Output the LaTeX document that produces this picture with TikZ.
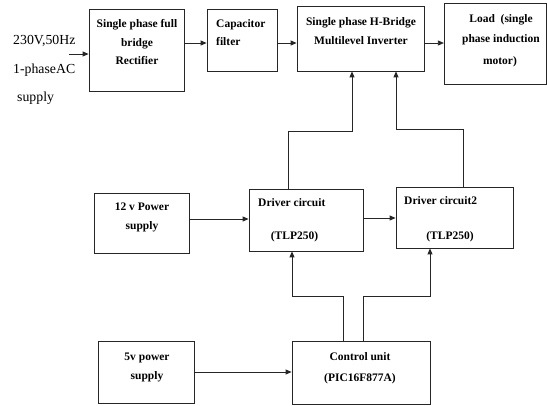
\documentclass[tikz,border=0pt]{standalone}
\usepackage{fontspec}
\setmainfont{Liberation Serif}
\usetikzlibrary{arrows.meta}
\begin{document}
\begin{tikzpicture}[x=1pt,y=-1pt,
  blk/.style={draw=black!85, line width=0.8pt, inner sep=0pt},
  lbl/.style={font=\fontsize{11.5}{13}\selectfont\bfseries, inner sep=0pt, anchor=base},
  lbll/.style={lbl, anchor=base west},
  intext/.style={font=\fontsize{13.8}{16}\selectfont, inner sep=0pt, anchor=base west},
  conn/.style={draw=black!85, line width=0.8pt},
  arr/.style={conn, -{Triangle[length=6pt,width=5pt]}}]
\useasboundingbox (0,0) rectangle (547,406);

% boxes
\node[blk, minimum width=95pt, minimum height=82pt] (rect) at (136.5,50) {};
\node[blk, minimum width=70pt, minimum height=62pt] (cap) at (242,40) {};
\node[blk, minimum width=127pt, minimum height=65pt] (hb) at (360.5,38.5) {};
\node[blk, minimum width=102pt, minimum height=81pt] (load) at (495.3,43.5) {};
\node[blk, minimum width=95pt, minimum height=60pt] (ps12) at (141.5,223) {};
\node[blk, minimum width=114pt, minimum height=62pt] (drv1) at (306,220) {};
\node[blk, minimum width=117pt, minimum height=61pt] (drv2) at (454.5,217.5) {};
\node[blk, minimum width=96pt, minimum height=62pt] (ps5) at (146,372) {};
\node[blk, minimum width=138pt, minimum height=63pt] (ctrl) at (361,373) {};

% input text
\node[intext] (t1) at (13,45) {230V,50Hz};
\node[intext] (t2) at (13,74) {1-phaseAC};
\node[intext] (t3) at (17,102) {supply};

% box texts
\node[lbl] (r1) at (137,28) {Single phase full};
\node[lbl] (r2) at (137,47) {bridge};
\node[lbl] (r3) at (137,65) {Rectifier};
\node[lbll] (c1) at (216,28) {Capacitor};
\node[lbll] (c2) at (216,46) {filter};
\node[lbl] (h1) at (361,26) {Single phase H-Bridge};
\node[lbl] (h2) at (361,45) {Multilevel Inverter};
\node[lbl] (l1) at (501,23) {Load\ \ (single};
\node[lbl] (l2) at (501,43) {phase induction};
\node[lbl] (l3) at (500,65) {motor)};
\node[lbl] (p1) at (142,211) {12 v Power};
\node[lbl] (p2) at (142,230) {supply};
\node[lbll] (d1) at (258,207) {Driver circuit};
\node[lbl] (d2) at (294.5,240) {(TLP250)};
\node[lbll] (e1) at (404,205) {Driver circuit2};
\node[lbl] (e2) at (450,240) {(TLP250)};
\node[lbl] (f1) at (147,361) {5v power};
\node[lbl] (f2) at (147,380) {supply};
\node[lbl] (g1) at (360,361) {Control unit};
\node[lbl] (g2) at (360,382) {(PIC16F877A)};

% connectors
\coordinate (src) at (69,54);
\draw[arr] (src) -- (rect.west |- src);
\draw[arr] (rect.east |- 0,43) -- (cap.west |- 0,43);
\draw[arr] (cap.east |- 0,43) -- (hb.west |- 0,43);
\draw[arr] (hb.east |- 0,43) -- (load.west |- 0,43);
\draw[arr] (drv1.north -| 288,0) -- (288,131) -- (352,131) -- (hb.south -| 352,0);
\draw[arr] (drv2.north -| 463,0) -- (463,129) -- (396,129) -- (hb.south -| 396,0);
\draw[arr] (ps12.east |- 0,219) -- (drv1.west |- 0,219);
\draw[arr] (drv1.east |- 0,218) -- (drv2.west |- 0,218);
\draw[arr] (ps5.east |- 0,372) -- (ctrl.west |- 0,372);
\draw[arr] (ctrl.north -| 343,0) -- (343,296) -- (292,296) -- (drv1.south -| 292,0);
\draw[arr] (ctrl.north -| 363,0) -- (363,296) -- (430,296) -- (drv2.south -| 430,0);
\end{tikzpicture}
\end{document}
